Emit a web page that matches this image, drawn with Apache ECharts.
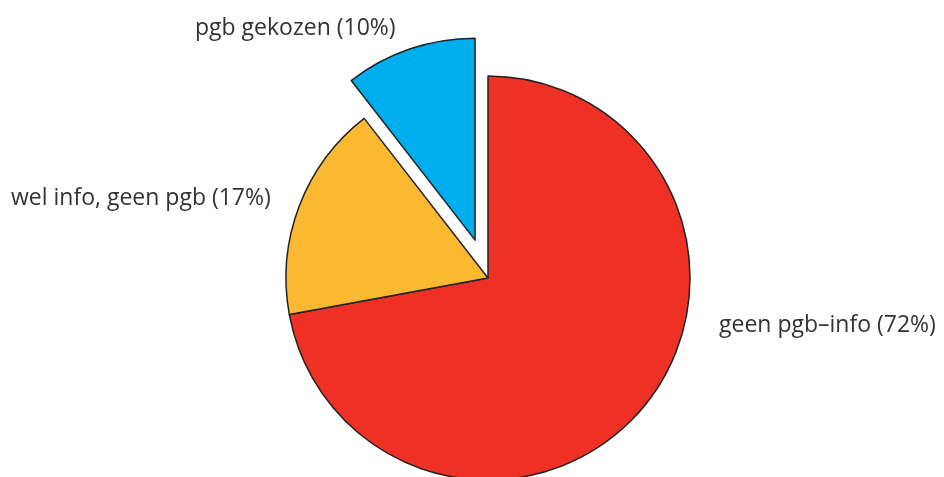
<!DOCTYPE html>
<html>
<head>
<meta charset="utf-8">
<title>pgb</title>
<script src="https://cdn.jsdelivr.net/npm/echarts@6/dist/echarts.min.js"></script>
<style>
  html, body { margin: 0; padding: 0; background: #fff; }
  #chart { width: 944px; height: 477px; }
</style>
</head>
<body>
<div id="chart"></div>
<script>
// slices, clockwise from 12 o'clock
var names = ["geen pgb\u2013info", "wel info, geen pgb", "pgb gekozen"];
var values = [72.1, 17.4, 10.5];
var shownPct = [72, 17, 10];
var colors = ["#EE3124", "#FBB931", "#00AEEF"];
var pulledOut = [false, false, true];

// where the labels sit (left edge, middle of text)
var labelPos = [
  [719, 325],
  [11, 198],
  [195, 28]
];

var chart = echarts.init(document.getElementById("chart"));

var data = names.map(function (n, i) {
  return {
    name: n,
    value: values[i],
    selected: pulledOut[i],
    itemStyle: { color: colors[i] }
  };
});

// labels as plain text, the pie's own label layout moves the pulled-out one
var texts = names.map(function (n, i) {
  return {
    type: "text",
    x: labelPos[i][0],
    y: labelPos[i][1],
    style: {
      text: n + " (" + shownPct[i] + "%)",
      font: "23px 'Open Sans'",
      fill: "#333",
      align: "left",
      verticalAlign: "middle"
    }
  };
});

chart.setOption({
  animation: false,
  graphic: texts,
  series: [
    {
      type: "pie",
      center: [488, 278],
      radius: [0, 202],
      startAngle: 90,
      clockwise: true,
      selectedMode: "single",
      selectedOffset: 40,
      itemStyle: {
        borderColor: "#222",
        borderWidth: 1.5
      },
      emphasis: { disabled: true },
      label: { show: false },
      labelLine: { show: false },
      data: data
    }
  ]
});
</script>
</body>
</html>
